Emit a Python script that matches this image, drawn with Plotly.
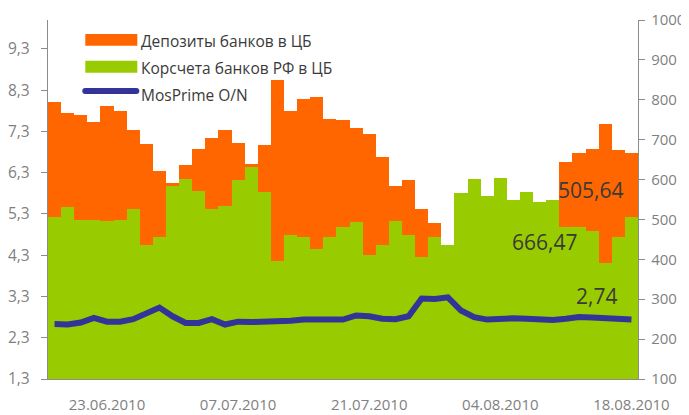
import plotly.graph_objects as go

dates = [
    "17.06.2010", "18.06.2010", "21.06.2010", "22.06.2010", "23.06.2010",
    "24.06.2010", "25.06.2010", "28.06.2010", "29.06.2010", "30.06.2010",
    "01.07.2010", "02.07.2010", "05.07.2010", "06.07.2010", "07.07.2010",
    "08.07.2010", "09.07.2010", "12.07.2010", "13.07.2010", "14.07.2010",
    "15.07.2010", "16.07.2010", "19.07.2010", "20.07.2010", "21.07.2010",
    "22.07.2010", "23.07.2010", "26.07.2010", "27.07.2010", "28.07.2010",
    "29.07.2010", "30.07.2010", "02.08.2010", "03.08.2010", "04.08.2010",
    "05.08.2010", "06.08.2010", "09.08.2010", "10.08.2010", "11.08.2010",
    "12.08.2010", "13.08.2010", "16.08.2010", "17.08.2010", "18.08.2010",
]

deposits = [
    795, 768, 762, 745, 785, 772, 725, 689, 622, 591,
    637, 677, 705, 725, 692, 639, 687, 849, 772, 801,
    806, 752, 750, 730, 715, 657, 584, 599, 527, 492,
    410, 520, 560, 530, 575, 520, 540, 515, 525, 644,
    667, 677, 740, 674, 666.47,
]

korschet = [
    507, 530, 499, 499, 497, 499, 527, 435, 457, 585,
    602, 572, 527, 534, 600, 632, 569, 396, 462, 457,
    426, 457, 480, 494, 410, 435, 497, 460, 405, 455,
    435, 567, 602, 559, 604, 550, 569, 544, 550, 482,
    480, 470, 392, 455, 505.64,
]

mosprime = [
    2.63, 2.62, 2.67, 2.78, 2.69, 2.69, 2.75, 2.90, 3.03, 2.82,
    2.66, 2.66, 2.75, 2.62, 2.69, 2.68, 2.68, 2.71, 2.71, 2.74,
    2.74, 2.74, 2.74, 2.84, 2.82, 2.76, 2.75, 2.82, 3.25, 3.24,
    3.28, 2.96, 2.80, 2.74, 2.76, 2.77, 2.76, 2.73, 2.73, 2.76,
    2.80, 2.79, 2.77, 2.75, 2.74,
]

x_tick_labels = ["23.06.2010", "07.07.2010", "21.07.2010", "04.08.2010", "18.08.2010"]
left_ticks = [1.3, 2.3, 3.3, 4.3, 5.3, 6.3, 7.3, 8.3, 9.3]
right_ticks = [100, 200, 300, 400, 500, 600, 700, 800, 900, 1000]

names = ["Депозиты банков в ЦБ", "Корсчета банков РФ в ЦБ", "MosPrime O/N"]
ORANGE, GREEN, BLUE = "#FF6600", "#99CC00", "#333399"
AXIS = "#8c8c8c"
TICKTXT = "#7f7f7f"
TXT = "#3a3a3a"
FONT = "Open Sans"

def fmt(v):
    return f"{v:.2f}".replace(".", ",")

fig = go.Figure()
fig.add_bar(x=dates, y=deposits, name=names[0], marker=dict(color=ORANGE, line=dict(width=0)),
            yaxis="y", xaxis="x")
fig.add_bar(x=dates, y=korschet, name=names[1], marker=dict(color=GREEN, line=dict(width=0)),
            yaxis="y", xaxis="x")
fig.add_scatter(x=dates, y=mosprime, name=names[2], mode="lines",
                line=dict(color=BLUE, width=6), yaxis="y2", xaxis="x")

n = len(dates)
minor_ticks = [i - 0.5 for i in range(0, n + 1, 5)]

# the page body has an 8px margin, so the figure is sized 8px smaller
fig.update_layout(
    width=681, height=407,
    margin=dict(l=40, r=51, t=12, b=36),
    paper_bgcolor="white", plot_bgcolor="white",
    barmode="overlay", bargap=0,
    showlegend=False,
    font=dict(family=FONT, size=15, color=TICKTXT),
    xaxis=dict(
        type="category", range=[-0.5, n - 0.5], automargin=False,
        tickmode="array", tickvals=x_tick_labels, ticktext=x_tick_labels,
        ticks="", showgrid=False, zeroline=False,
        showline=True, linecolor=AXIS, linewidth=1.3,
        tickfont=dict(size=15, color=TICKTXT), ticklabelstandoff=12,
    ),
    xaxis2=dict(
        overlaying="x", anchor="y", side="bottom", type="linear", automargin=False,
        range=[-0.5, n - 0.5], tickmode="array", tickvals=minor_ticks,
        ticks="outside", ticklen=5, tickwidth=1.3, tickcolor=AXIS,
        showticklabels=False, showgrid=False, zeroline=False, showline=False,
    ),
    yaxis=dict(
        side="right", range=[100, 1000], tickmode="array", tickvals=right_ticks,
        ticks="outside", ticklen=6, tickwidth=1.3, tickcolor=AXIS, automargin=False,
        showline=True, linecolor=AXIS, linewidth=1.3,
        showgrid=False, zeroline=False,
        tickfont=dict(size=15, color=TICKTXT), ticklabelstandoff=3,
    ),
    yaxis3=dict(
        overlaying="y", side="right", anchor="x", range=[100, 1000], automargin=False,
        tickmode="array", tickvals=right_ticks,
        ticks="inside", ticklen=6, tickwidth=1.3, tickcolor=AXIS,
        showticklabels=False, showline=False, showgrid=False, zeroline=False,
    ),
    yaxis2=dict(
        overlaying="y", side="left", anchor="x", range=[1.3, 10.0], automargin=False,
        tickmode="array", tickvals=left_ticks,
        ticktext=[f"{v:.1f}".replace(".", ",") for v in left_ticks],
        ticks="outside", ticklen=6, tickwidth=1.3, tickcolor=AXIS,
        showline=True, linecolor=AXIS, linewidth=1.3,
        showgrid=False, zeroline=False,
        tickfont=dict(size=15.5, color=TICKTXT), ticklabelstandoff=8,
    ),
)

# manual legend (wide swatches as in the reference)
shapes = [
    dict(type="rect", xref="paper", yref="paper", x0=0.0632, x1=0.1514, y0=0.9285, y1=0.961,
         fillcolor=ORANGE, line=dict(width=0)),
    dict(type="rect", xref="paper", yref="paper", x0=0.0632, x1=0.1514, y0=0.8533, y1=0.8867,
         fillcolor=GREEN, line=dict(width=0)),
    dict(type="line", xref="paper", yref="paper", x0=0.0632, x1=0.1497, y0=0.8024, y1=0.8024,
         line=dict(color=BLUE, width=6)),
    dict(type="circle", xref="paper", yref="paper", x0=0.0581, x1=0.0683, y0=0.7941, y1=0.8107,
         fillcolor=BLUE, line=dict(width=0)),
    dict(type="circle", xref="paper", yref="paper", x0=0.1446, x1=0.1548, y0=0.7941, y1=0.8107,
         fillcolor=BLUE, line=dict(width=0)),
]
fig.update_layout(shapes=shapes)

ann = []
for name, yp in zip(names, [0.942, 0.867, 0.790]):
    ann.append(dict(xref="paper", yref="paper", x=0.155, y=yp, xanchor="left", yanchor="middle",
                    text=name, showarrow=False, font=dict(family=FONT, size=15.5, color=TXT)))
ann.append(dict(xref="paper", yref="paper", x=0.919, y=0.527, text=fmt(korschet[-1]),
                showarrow=False, xanchor="center", yanchor="middle",
                font=dict(family=FONT, size=21, color=TXT)))
ann.append(dict(xref="paper", yref="paper", x=0.841, y=0.383, text=fmt(deposits[-1]),
                showarrow=False, xanchor="center", yanchor="middle",
                font=dict(family=FONT, size=21, color=TXT)))
ann.append(dict(xref="paper", yref="paper", x=0.930, y=0.230, text=fmt(mosprime[-1]),
                showarrow=False, xanchor="center", yanchor="middle",
                font=dict(family=FONT, size=21, color=TXT)))
fig.update_layout(annotations=ann)

fig.write_html("out.html")
